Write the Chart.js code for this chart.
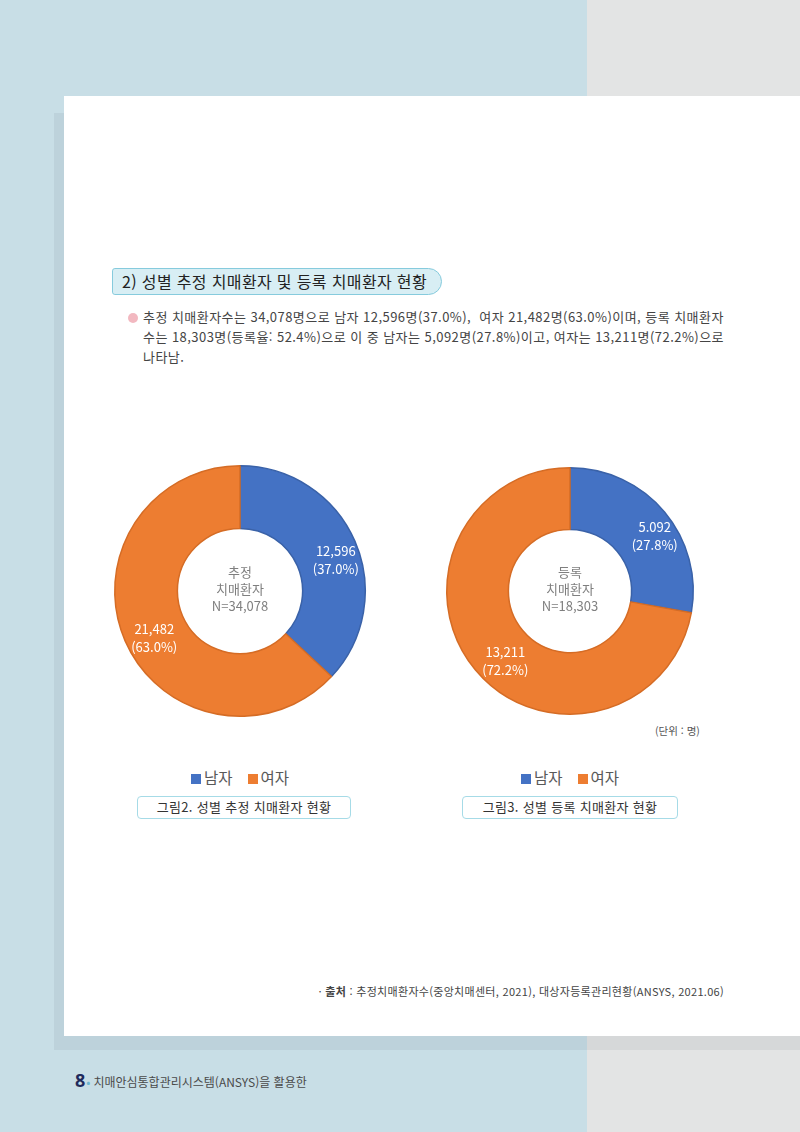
<!DOCTYPE html>
<html lang="ko">
<head>
<meta charset="utf-8">
<script src="https://cdn.jsdelivr.net/npm/chart.js@4.4.1/dist/chart.umd.min.js"></script>
<style>
  html, body { margin: 0; padding: 0; }
  body {
    width: 800px; height: 1132px; position: relative; overflow: hidden;
    background: linear-gradient(to right, #c8dee6 0, #c8dee6 587px, #e3e4e4 587px, #e3e4e4 100%);
    font-family: "Noto Sans CJK KR", "Noto Sans", sans-serif;
    color: #333;
  }
  .shadow-l { position: absolute; left: 54px; top: 113px; width: 10px; height: 937px; background: rgba(60, 80, 95, 0.08); }
  .shadow-b { position: absolute; left: 64px; top: 1036px; width: 736px; height: 14px; background: rgba(60, 80, 95, 0.08); }
  .panel { position: absolute; left: 64px; top: 96px; width: 736px; height: 940px; background: #fff; }
  .abs { position: absolute; white-space: nowrap; }
  .title-box {
    left: 112px; top: 268px; width: 330px; height: 27px; box-sizing: border-box;
    background: #d8eef4; border: 1.5px solid #86cbdd; border-radius: 3px 14px 14px 3px;
    font-size: 16px; line-height: 24px; padding-left: 9px; color: #222; letter-spacing: 0.35px;
  }
  .bullet { left: 128px; top: 313px; width: 10px; height: 10px; border-radius: 50%; background: #f2b8c0; }
  .para { left: 143px; top: 307px; font-size: 13px; line-height: 20px; color: #444; letter-spacing: 0.45px; }
  .chart-wrap { position: absolute; width: 260px; height: 260px; }
  .legend { font-size: 15.5px; color: #595959; top: 766px; }
  .legend .sw { display: inline-block; width: 10px; height: 10px; margin-right: 3px; vertical-align: 0px; }
  .legend .it { margin-right: 15px; }
  .legend .it:last-child { margin-right: 0; }
  .caption {
    top: 796px; height: 23px; box-sizing: border-box; border: 1.5px solid #a6dbe7; border-radius: 4px;
    font-size: 13px; line-height: 20px; text-align: center; color: #333; letter-spacing: 0.3px;
  }
  .unit { left: 655px; top: 723px; font-size: 10.5px; color: #555; }
  .source { right: 76px; top: 983px; font-size: 11px; color: #444; letter-spacing: 0.3px; }
  .footer { left: 75px; top: 1068px; font-size: 12px; color: #4a4a4a; }
  .footer b { font-size: 18px; color: #1f2a5c; font-family: "Noto Sans", sans-serif; }
  .footer .dot { color: #6cb6d0; margin: 0 3px 0 1px; }
</style>
</head>
<body>
<div class="shadow-l"></div>
<div class="shadow-b"></div>
<div class="panel"></div>

<div class="abs title-box">2) 성별 추정 치매환자 및 등록 치매환자 현황</div>
<div class="abs bullet"></div>
<div class="abs para">추정 치매환자수는 34,078명으로 남자 12,596명(37.0%),&nbsp; 여자 21,482명(63.0%)이며, 등록 치매환자<br>수는 18,303명(등록율: 52.4%)으로 이 중 남자는 5,092명(27.8%)이고, 여자는 13,211명(72.2%)으로<br>나타남.</div>

<div class="chart-wrap" style="left:110px; top:461px;"><canvas id="chart-est"></canvas></div>
<div class="chart-wrap" style="left:440px; top:461px;"><canvas id="chart-reg"></canvas></div>

<div class="abs unit">(단위 : 명)</div>
<div class="abs legend" id="legend-est"></div>
<div class="abs legend" id="legend-reg"></div>
<div class="abs caption" style="left:137px; width:214px;">그림2. 성별 추정 치매환자 현황</div>
<div class="abs caption" style="left:462px; width:216px;">그림3. 성별 등록 치매환자 현황</div>

<div class="abs source">· <b>출처</b> : 추정치매환자수(중앙치매센터, 2021), 대상자등록관리현황(ANSYS, 2021.06)</div>
<div class="abs footer"><b>8</b><span class="dot">•</span>치매안심통합관리시스템(ANSYS)을 활용한</div>

<script>
// Data
const genders = ['남자', '여자'];
const colors = ['#4472c4', '#ed7d31'];
const borders = ['#3a62a8', '#d56c25'];

const estValues = [12596, 21482];
const estText = ['12,596', '21,482'];
const estPct = ['37.0%', '63.0%'];
const estCenter = ['추정', '치매환자', 'N=34,078'];

const regValues = [5092, 13211];
const regText = ['5.092', '13,211'];
const regPct = ['27.8%', '72.2%'];
const regCenter = ['등록', '치매환자', 'N=18,303'];

const FONT = '"Noto Sans CJK KR", "Noto Sans", sans-serif';

// labels inside each slice + text in the hole
const donutText = {
  id: 'donutText',
  afterDatasetsDraw(chart, args, opts) {
    const ctx = chart.ctx;
    const arcs = chart.getDatasetMeta(0).data;
    ctx.save();
    ctx.textAlign = 'center';
    ctx.textBaseline = 'middle';
    ctx.font = '13px ' + FONT;
    ctx.fillStyle = '#ffffff';
    arcs.forEach((arc, i) => {
      const p = arc.getProps(['x', 'y', 'startAngle', 'endAngle', 'innerRadius', 'outerRadius'], true);
      const mid = (p.startAngle + p.endAngle) / 2;
      const r = (p.innerRadius + p.outerRadius) / 2 + 5;
      const x = p.x + Math.cos(mid) * r + opts.dx;
      const y = p.y + Math.sin(mid) * r + 8;
      ctx.fillText(opts.values[i], x, y - 9);
      ctx.fillText('(' + opts.pcts[i] + ')', x, y + 9);
    });
    const c = arcs[0];
    ctx.fillStyle = '#7f7f7f';
    opts.center.forEach((t, i) => {
      ctx.fillText(t, c.x, c.y + (i - 1) * 17 - 2);
    });
    ctx.restore();
  }
};

function makeDonut(id, values, texts, pcts, center, pad, dx) {
  return new Chart(document.getElementById(id), {
    type: 'doughnut',
    data: {
      labels: genders,
      datasets: [{
        data: values,
        backgroundColor: colors,
        borderColor: borders,
        borderWidth: 1.5,
      }],
    },
    options: {
      responsive: true,
      maintainAspectRatio: false,
      animation: false,
      cutout: '50%',
      layout: { padding: pad },
      plugins: {
        legend: { display: false },
        tooltip: { enabled: false },
        donutText: { values: texts, pcts: pcts, center: center, dx: dx },
      },
    },
    plugins: [donutText],
  });
}

function renderLegend(id, centerX) {
  const el = document.getElementById(id);
  el.innerHTML = genders.map((g, i) =>
    `<span class="it"><span class="sw" style="background:${colors[i]}"></span>${g}</span>`).join('');
  el.style.left = (centerX - el.offsetWidth / 2) + 'px';
}

makeDonut('chart-est', estValues, estText, estPct, estCenter, 4, 5);
makeDonut('chart-reg', regValues, regText, regPct, regCenter, 6, 10);
renderLegend('legend-est', 240);
renderLegend('legend-reg', 570);
</script>
</body>
</html>
